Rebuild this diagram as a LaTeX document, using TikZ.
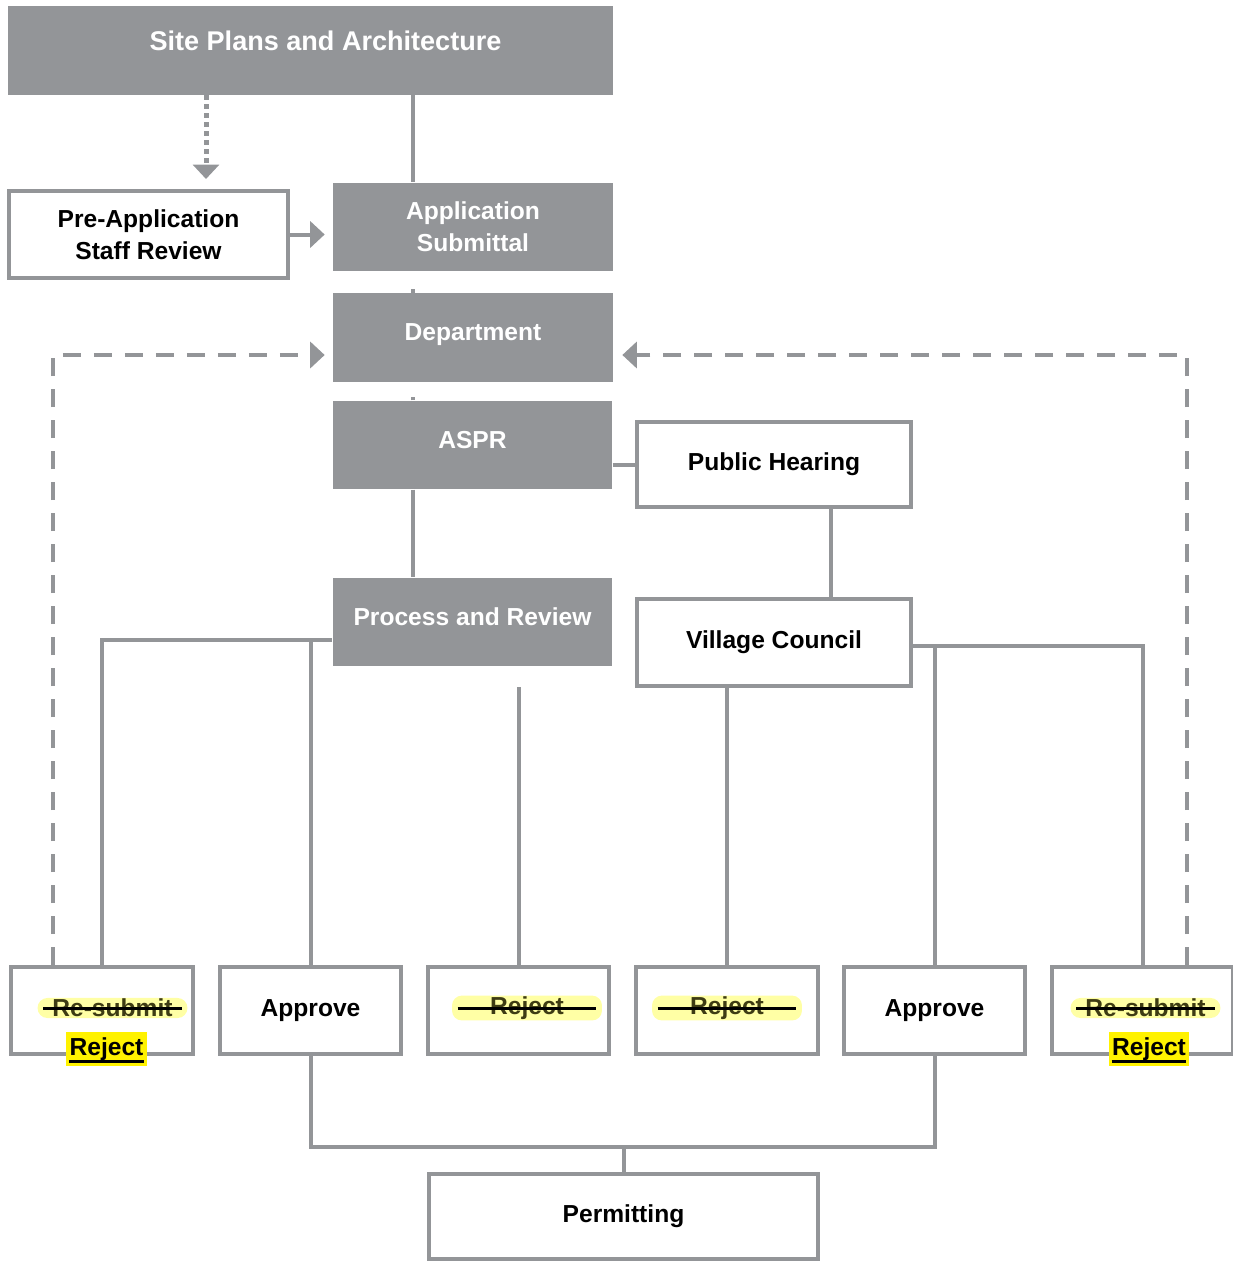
\documentclass[tikz,border=0pt]{standalone}
\usepackage{fontspec}
\setmainfont{Liberation Sans}
\usetikzlibrary{arrows.meta}
\definecolor{boxgray}{RGB}{147,149,152}
\definecolor{glowyellow}{RGB}{255,255,165}
\definecolor{oldtext}{RGB}{62,60,20}
\tikzset{
  boxtext/.style={font=\fontsize{14}{18}\selectfont\bfseries,align=center},
  gbox/.style={boxtext,fill=boxgray,text=white,minimum width=5.6cm,minimum height=1.77cm},
  oneline/.style={text depth=0.2cm},
  wbox/.style={boxtext,draw=boxgray,line width=0.08cm,fill=white,minimum width=3.64cm,minimum height=1.74cm},
  conn/.style={draw=boxgray,line width=0.08cm},
  head/.style={-{Triangle[length=0.29cm,width=0.52cm]}},
  back/.style={conn,head,dash pattern=on 0.36cm off 0.26cm},
  dotconn/.style={draw=boxgray,line width=0.1cm,head,dash pattern=on 0.1cm off 0.08cm},
  gone/.style={boxtext,fill=glowyellow,rounded corners=0.2cm,text=oldtext,minimum width=3cm,inner ysep=0.02cm},
  strike/.style={draw=black,line width=0.06cm},
  newword/.style={boxtext,fill=yellow,text=black,inner xsep=0.07cm,inner ysep=0.12cm}
}
\begin{document}
\begin{tikzpicture}[x=0.02cm,y=-0.02cm]
\useasboundingbox (0,0) rectangle (1233,1262);
%top
\node[gbox,minimum width=12.1cm,minimum height=1.78cm,text depth=0.39cm,font=\fontsize{15.4}{18}\selectfont\bfseries] (site) at (310.5,50.5) {\hspace*{0.6cm}Site Plans and Architecture};
\node[wbox,minimum width=5.58cm] (pre) at (148.5,234.5) {Pre-Application\\Staff Review};
\node[gbox] (app) at (473,227) {Application\\Submittal};
\node[gbox,oneline] (dept) at (473,337.5) {Department};
\node[gbox,oneline] (aspr) at (472.5,445) {ASPR};
\node[gbox,oneline] (proc) at (472.5,622) {Process and Review};
\node[wbox,minimum width=5.48cm,minimum height=1.7cm] (hear) at (774,464.5) {Public Hearing};
\node[wbox,minimum width=5.48cm] (council) at (774,642.5) {Village Council};
%bottom row
\node[wbox] (out1) at (102,1010.5) {};
\node[wbox] (out2) at (310.5,1010.5) {Approve};
\node[wbox] (out3) at (518.5,1010.5) {};
\node[wbox] (out4) at (727,1010.5) {};
\node[wbox] (out5) at (934.5,1010.5) {Approve};
\node[wbox] (out6) at (1142.5,1010.5) {};
\node[wbox,minimum width=7.78cm,minimum height=1.7cm] (permit) at (623.5,1216.5) {Permitting};
%struck words
\node[gone] (sub1) at (112.5,1008) {Re-submit};
\node[gone] (rej3) at (527,1008) {Reject};
\node[gone] (rej4) at (727,1008) {Reject};
\node[gone] (sub6) at (1145.5,1008) {Re-submit};
\draw[strike] ([xshift=0.12cm]sub1.west) -- ([xshift=-0.12cm]sub1.east);
\draw[strike] ([xshift=0.12cm]rej3.west) -- ([xshift=-0.12cm]rej3.east);
\draw[strike] ([xshift=0.12cm]rej4.west) -- ([xshift=-0.12cm]rej4.east);
\draw[strike] ([xshift=0.12cm]sub6.west) -- ([xshift=-0.12cm]sub6.east);
\node[newword] (new1) at (106.5,1049) {Reject};
\node[newword] (new6) at (1149,1049) {Reject};
\draw[strike] ([xshift=0.07cm,yshift=0.1cm]new1.south west) -- ([xshift=-0.07cm,yshift=0.1cm]new1.south east);
\draw[strike] ([xshift=0.07cm,yshift=0.1cm]new6.south west) -- ([xshift=-0.07cm,yshift=0.1cm]new6.south east);
%main line
\coordinate (mid) at (413,0);
\draw[conn] (site.south -| mid) -- (app.north -| mid);
\draw[conn] (dept.north -| mid) -- ++(0,-4);
\draw[conn] (aspr.north -| mid) -- ++(0,-3);
\draw[conn] (aspr.south -| mid) -- (proc.north -| mid);
\coordinate (prev) at (206,0);
\draw[dotconn,shorten >=0.2cm] (site.south -| prev) -- (pre.north -| prev);
\draw[conn,head,shorten >=0.16cm] (pre.east) -- (pre.east -| app.west);
\draw[conn] (hear.west -| aspr.east) -- (hear.west);
\coordinate (hv) at (831,0);
\draw[conn] (hear.south -| hv) -- (council.north -| hv);
%outcomes
\coordinate (pl) at (0,640);
\draw[conn] (proc.west |- pl) -| (out1.north);
\draw[conn] (out2.north |- pl) -- (out2.north);
\coordinate (rl) at (0,687);
\draw[conn] (out3.north |- rl) -- (out3.north);
\draw[conn] (council.south -| out4.north) -- (out4.north);
\coordinate (cl) at (0,646);
\draw[conn] (council.east |- cl) -| (out6.north);
\draw[conn] (out5.north |- cl) -- (out5.north);
\coordinate (jb) at (0,1147);
\draw[conn] (out2.south) |- (permit.north |- jb) -| (out5.south);
\draw[conn] (permit.north |- jb) -- (permit.north);
%back to department
\coordinate (dl) at (53,355);
\draw[back,shorten >=0.16cm] (out1.north -| dl) |- (dept.west |- dl);
\coordinate (dr) at (1187,355);
\draw[back,shorten >=0.18cm] (out6.north -| dr) |- (dept.east |- dr);
\end{tikzpicture}
\end{document}
